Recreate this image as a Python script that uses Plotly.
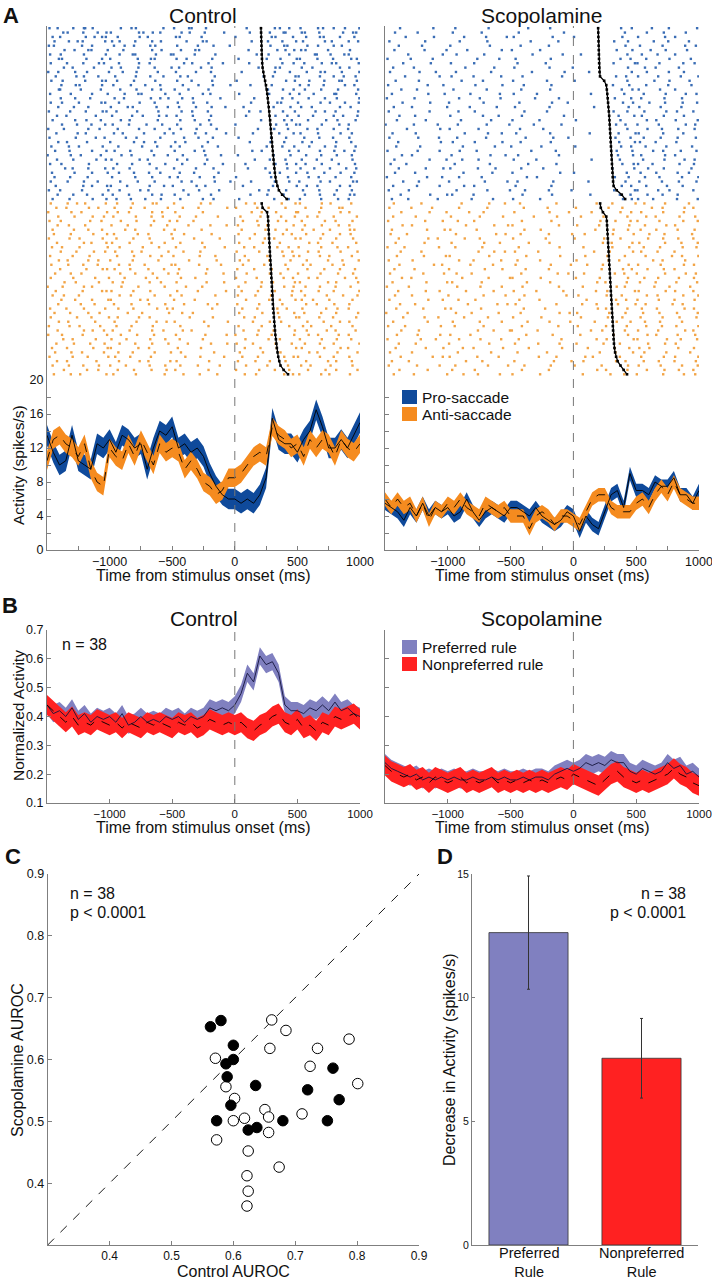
import plotly.graph_objects as go

W, H = 712, 1280
FONT = "Liberation Sans, Arial, Helvetica, sans-serif"
AXIS_GRAY = "#7f7f7f"
TEXT = "#111111"

BLUE_BAND = "#0f4a9b"
ORANGE_BAND = "#f58b1f"
BLUE_DOT = "#3a6db5"
ORANGE_DOT = "#f2a446"
PURPLE = "#8080c0"
RED = "#ff2121"

# ---------------- data ----------------
time_ms = [-1500, -1450, -1400, -1350, -1300, -1250, -1200, -1150, -1100, -1050,
           -1000, -950, -900, -850, -800, -750, -700, -650, -600, -550,
           -500, -450, -400, -350, -300, -250, -200, -150, -100, -50,
           0, 50, 100, 150, 200, 250, 300, 350, 400, 450,
           500, 550, 600, 650, 700, 750, 800, 850, 900, 950, 1000]

# Panel A: single-neuron firing rate (spikes/s)
ctrl_pro_rate = [13.5, 11.5, 10, 10.5, 13.5, 10.5, 10, 9.5, 12.5, 12,
                 13, 11.5, 13.5, 13, 12, 12.5, 9.5, 12, 14, 13.5,
                 14.5, 12, 12.5, 11.5, 12, 11, 9, 7.5, 6.5, 6,
                 6, 5.5, 6, 5.5, 6.5, 8.5, 15.5, 13, 12.5, 12.5,
                 11.5, 13, 14, 16.5, 14.5, 12, 12, 13, 12, 13.5, 15]
ctrl_anti_rate = [10.5, 13, 13.5, 12.5, 12, 11, 12.5, 9.5, 8, 7.5,
                  12, 11, 10.5, 12.5, 11, 13, 11.5, 10, 12.5, 11.5,
                  12, 11.5, 9.5, 10.5, 9.5, 8, 7.5, 6.5, 7, 8.5,
                  8.5, 9, 10, 11, 11.5, 11, 14.5, 13.5, 13, 12,
                  12.5, 11, 13, 12, 13, 12.5, 11, 13, 12, 11.5, 12.5]
scop_pro_rate = [5.5, 5, 4.5, 3.5, 5, 4, 5.5, 4, 5, 4.5,
                 5, 4, 4.5, 6, 4.5, 3.5, 4.5, 5, 4.5, 4,
                 5, 5, 4.5, 4, 5, 4, 3.5, 3, 3.5, 4.5,
                 4, 2.2, 4, 3, 2.5, 4.5, 6.5, 7, 5, 9,
                 7, 7, 6.5, 8, 7.5, 7.5, 8.5, 6.5, 6.5, 5.5, 7]
scop_anti_rate = [6, 5, 6, 5, 5.5, 4, 5.5, 3.5, 5, 4.5,
                  5.5, 5, 6, 5, 4.5, 4, 5.5, 5, 4.5, 5,
                  4, 4, 4, 2.5, 4, 4.5, 4, 3, 4, 4,
                  3.5, 3, 4.5, 6, 6.5, 6.5, 5, 4.5, 4.5, 4.5,
                  5.5, 6, 5, 6.5, 7.5, 6.5, 8, 6.5, 6, 5.5, 5.5]
ctrl_pro_sem, ctrl_anti_sem = 1.2, 1.1
scop_pro_sem, scop_anti_sem = 0.8, 0.8

# Panel B: population normalized activity
ctrl_pref = [0.44, 0.41, 0.42, 0.40, 0.43, 0.39, 0.41, 0.38, 0.40, 0.39,
             0.40, 0.38, 0.41, 0.37, 0.38, 0.40, 0.38, 0.39, 0.38, 0.40,
             0.39, 0.40, 0.38, 0.40, 0.39, 0.40, 0.43, 0.42, 0.43, 0.42,
             0.44, 0.48, 0.55, 0.52, 0.61, 0.58, 0.59, 0.55, 0.44, 0.42,
             0.42, 0.41, 0.43, 0.42, 0.44, 0.42, 0.45, 0.42, 0.43, 0.41, 0.40]
ctrl_nonpref = [0.44, 0.42, 0.40, 0.38, 0.40, 0.37, 0.38, 0.37, 0.39, 0.38,
                0.37, 0.38, 0.36, 0.38, 0.37, 0.36, 0.38, 0.37, 0.38, 0.37,
                0.36, 0.38, 0.37, 0.38, 0.36, 0.37, 0.39, 0.38, 0.37, 0.38,
                0.37, 0.38, 0.36, 0.35, 0.37, 0.38, 0.40, 0.41, 0.38, 0.37,
                0.39, 0.36, 0.37, 0.35, 0.38, 0.37, 0.40, 0.39, 0.40, 0.41, 0.39]
scop_pref = [0.24, 0.22, 0.21, 0.20, 0.19, 0.20, 0.18, 0.19, 0.18, 0.19,
             0.18, 0.19, 0.18, 0.18, 0.19, 0.18, 0.18, 0.19, 0.18, 0.19,
             0.18, 0.18, 0.19, 0.18, 0.19, 0.19, 0.18, 0.20, 0.21, 0.22,
             0.21, 0.22, 0.24, 0.23, 0.24, 0.23, 0.25, 0.24, 0.24, 0.21,
             0.20, 0.22, 0.21, 0.20, 0.21, 0.24, 0.22, 0.23, 0.20, 0.21, 0.19]
scop_nonpref = [0.23, 0.21, 0.20, 0.19, 0.20, 0.18, 0.19, 0.17, 0.19, 0.18,
                0.17, 0.18, 0.19, 0.17, 0.18, 0.17, 0.18, 0.19, 0.17, 0.18,
                0.17, 0.18, 0.17, 0.18, 0.17, 0.18, 0.17, 0.18, 0.19, 0.18,
                0.20, 0.19, 0.18, 0.17, 0.16, 0.18, 0.20, 0.21, 0.19, 0.18,
                0.17, 0.18, 0.17, 0.18, 0.19, 0.20, 0.22, 0.20, 0.19, 0.17, 0.16]
pref_sem, nonpref_sem = 0.03, 0.035

# Raster spike strings: each row = 5 chunks of 500 ms, each char = 50 ms bin;
# '.' = no spike, digit d = spike at d*5 ms into the bin
ctrl_pro_raster = [
    "47..2913.. .8.52...6. 3.71.4.... .9....427. 5..318.6.9",
    "..63.8..15 2...749.1. .58..2..3. ..4..6.81. 72.5...394",
    "9.1...2684 .3..8.1... 62..7..... 1....95..3 .4.62.8..1",
    ".2.597...3 46..1.8.2. ..3.95.... ..7..3.6.8 9...45..27",
    "31...6.2.. 7.49..53.. 8...1.6..2 .....7.94. .6.3.8.1..",
    "..8.4.61.7 ..2...8.3. .4.73..... ..2...8.15 63..9...4.",
    "5.2..9...4 .6.71..4.8 2..6..9... ...5.4..7. ..81.3.52.",
    ".94...3.8. 1...5.62.. 7.3...4... 6....1.3.9 4..2.7..65",
    "6..2.8..31 .5..7.4... .9.2.8..1. ..3....6.4 .1.9.52..8",
    "..7.1..5.. 38..6..2.9 .1..6.3... ...8..52.. 7.4...8.3.",
    "28..5.4..9 ..1.3..7.. 6..8..2... .1....4.8. .5.74..1.9",
    ".4..79..2. 9...2.5.6. .35...8... ....6.1..7 2..6.8.4.3",
    "7.5...1.84 .2.9...3.. 8..1..4... 3.......26 .9..3.71.5",
    "..3.62..8. 6..4.7..1. .7..2.5..3 ..5..9.... 48..2..6.1",
    ".91..4..6. .7..3.8.2. 4.6..8.... .....3.7.4 .2.8..5..7",
    "5..8...2.7 ..4.61..9. .2..9.1... 7....5..8. 3.6..92..4",
    "..2.5.9... 8.3...6.14 .6.3...7.. ...1...6.2 .8..4.3..9",
    "6.4..1..73 .5..8..2.. 9..4.6.... ..6...84.. 1..7.2.6.8",
    ".8..3.6... 2.97...5.3 .1.8..3.5. .4....2.9. 6.3...8.5.",
    "3..7..2.95 .1..4..8.. .5.2.7.... ..3.1..7.6 ..9.4.1..7",
    ".6.1...8.. 4..6.3.9.1 7..3..2... .8....5.4. 2.5..8.3.6",
    "9...5.3.6. .8.2...7.. .3.6.9.... ....2..9.1 .7..6.4..3",
    "..4.8..1.3 5..1.9..4. 8...5.2... 1.....6.38 4..9..7.2.",
    "2.7...6.4. .3..7..2.6 .4.9...1.. ...7..3.5. .6.2.8..1.",
    ".5..9.2... 7.1..5..8. 2..7.4..6. ..9....1.4 5..3..9.7.",
    "4...6..8.2 ..6.3...1. .9..2.5... 6....8..2. .1.5.7..3.",
    ".8.2..4... 1..9.5.3.. 5.1..7.... ..4..7.9.. 8.3...2.6.",
    "7..5.1..9. .4...2.6.8 .2..8..3.. .....1.6.5 .9..4.1..3",
    ".3.6...2.5 8..3..7... 4..6.1.... ..8.3...7. 2..6.9.5.1",
    "1..8.4..6. .9.5...1.3 .7...3.8.. 5.....2.9. .4.8..3.7.",
    ".6..2..9.4 3...8.1... 8.4..6.... ...2.6..1. 7..1.5..8.",
    "5.3...7... .2.6..4.9. .6...2..1. .7....5.38 .3.9..6..2",
    "..9.1.6..3 6..2...5.. 3..8..6... ..1.9...4. 5.7..2.8.4",
    "8...4..2.7 .5.9..3.1. .2.5...4.. .....6.2.8 .6..3.9..1",
    ".2.7..5... 4...1.8..6 9...4.7... 2....8..5. .8.4..1.6.",
    "6..3.9..1. .7..5..2.. .5.1..8..3 ..6...4.7. 3..7.2..95",
    ".4...8.2.6 2.8...4.7. 1..9.3.... .3....1..9 .5.2..8.4.",
    "3.1..6...8 .6..9.2... .8..3..5.. ...9.4..2. 9..5..3.7.",
    ".7..2.4.9. 5..1..8.3. 4.6...2... ..5..2.8.. .2.6.9..41",
    "9..6...3.5 .1.4.7..2. .3..9.6... 7.....3.6. 4..8..5.2.",
]
ctrl_anti_raster = [
    "6..38.1..4 .2.7..95.. 3...6.1... .8.2...5.7 4..9.3..6.",
    ".5.1..7.2. 8..4.6...3 .7..2...8. 2..6.4..1. .3.8..72..",
    "2..9.5...6 .3.1..8.4. 5...9..... ..7.3.6..8 1..5..9.3.",
    ".8..4..3.1 6...2.7.5. .2.8...3.. 9...1..4.6 .6.2.8...5",
    "4.2...9.7. .8..3..1.6 8..4...... .3.6..9.2. 7...4.1.8.",
    ".7.5..1... 3.9...6..2 ..6...1.7. 5..8.2...4 .2.9..6.3.",
    "9...3.6.8. ..5.1...7. 4...7..... .1..9.5.3. 8.6..2..41",
    ".1.8...4.6 7...5.2..9 .9....3... 6..2...7.1 .4..1.8.5.",
    "3..6.2..9. .1.8..4... 1..5...6.. ..4.8.3..7 5..7..2.9.",
    ".6...9.1.5 4..2..7.8. .3..8..... 7...5..2.. .9.3.6...4",
    "8.4..2...7 .6...3.9.. 6....2..4. .5.1..8.6. 2..8..4.1.",
    "..2.7..5.3 9..6.1...4 .8..5..... 3..9...6.2 .7.4..9..6",
    "5...1.8... .2.9..5.3. 2...4.9... .6...2.8.4 3..6.1..7.",
    ".9.3..6.2. 1..7...8.. ..7....1.. 8.2..5..9. .5..9..2.8",
    "7..4.8..1. .5.2.6...9 5...3..8.. .3..7...1. 9.1..6.4..",
    "..1...3.96 8..3..2.7. .1...6.... 4..1.9..5. .6..3.8..2",
    ".3.8.5.... .7..1.9..4 9....4..2. .9...6.3.. 1..7..5.9.",
    "6...2..7.9 ..4..8.6.. .4.7...... 2..5...8.3 .8.2...6.4",
    "..8.6...3. 5.1...4.2. 7....5..3. .7..3.1..6 4...9.2..7",
    "1.5..9.2.. .9..6...8. ..2.8..... 6...2..9.4 .3.6..1.5.",
    ".4...7..85 3..8..5... 8...1...6. .1.7..4..2 6..4.8...9",
    "9.7..1.... .6.4...2.7 .5....9... 5..3.8...1 .2..7..3.6",
    "..3.5..2.8 2...9.1... 3..6...... .8...5.2.7 7.5..1..8.",
    ".8...4.6.. 7..5..3.9. .9...7.2.. 4..9...6.. .4.1.9..3.",
    "5..1.9...3 .4.8...6.2 1.....4... .2.6..8.3. 8...6.4.2.",
    ".2.7..6.4. ..9..2...5 .6.3...... 7...4.9..5 .1.8..2..7",
    "6...8..1.9 .3..7.4... ..8...5... .5.2...1.8 3..5.7...4",
    ".9.4...7.. 8...3..5.1 4....1..9. ..9..6.4.. .6..2.8.3.",
    "3..6.2..5. .1.5..9... .3...8.... 6...3...7. 9.2..4..8.",
    ".7...9.3.1 5..2..8.6. .7.1...... .4.8..2..6 .5..7.1..3",
    "2.4..7...6 .8..4..1.. 6....3..7. 1..6.9...5 .8.3..6.2.",
    "..6.1..8.. 3.7...5.9. .2..9..... .7...4.2.. 4..9..3.6.",
    ".5..3.9..2 .6..1.8..4 ..5...2.8. 3.9...5..1 .2.6.8...9",
    "8..2...4.7 2...6.3... 9...6..... .6..1.7..8 7...3.9.1.",
    ".3.9.6...1 .4.7...2.8 .4....7... 8...5..3.. .9.2..4..6",
    "4...1.5..8 9..3..6... ..1.5...3. .2.7...9.4 1..6.8..3.",
    ".6.2...9.. .5..8.2..7 7....9.... 5..3.6..1. .4..9.2.7.",
    "9..5.8..3. 1.6...4.9. .3..1..6.. .8...2..5. 6.1..3..8.",
    "..7...4.2. .3.9..7..1 5....8.... 2..9..4.7. .7..5.2..6",
    ".1.8.3...5 6...2...8. .8..4..2.. .6.4...9.3 3..8.1..4.",
]
scop_pro_raster = [
    "..4....7.. .2....5... ..8...3... .......6.3 ..5..2...7",
    ".6...2.... 8....4.... .3......5. ........2. .7..4..9..",
    "...3...8.. ..6...1..4 5.....7... 1......8.. 3...6.2...",
    "7.....4... .9....3... ...2...6.. ......5.7. ..8..1..4.",
    "..2..9.... 4.....7... .6....1... ........3. 6...2..8.5",
    ".5....3..8 ...1....6. 2...7..... ......9..4 ..3.7...1.",
    "...7.....2 .4...8.... ...5....3. .2......6. 9..4..2...",
    "4...1..6.. ....7...2. 8.....4... .......5.1 .6...3..7.",
    "..9....3.. 5...2..... .1...6.... ......4..8 2..7...5.3",
    ".3..6..... ..8....4.. 6.....2..9 ........7. .4.1..8...",
    "8....5..1. .3....9... ...4....6. ..5......3 .7...2.6..",
    "...2....7. 6...1...5. .9......2. ......8.4. 3..5...1.9",
    ".7...4.... ..2..6.... 4....8.... 2.......6. ..9..3..5.",
    "5.....8..3 ....4...7. ..1...5... ......3.9. .6...1..8.",
    "..6..1.... 9.....2... .7....3... .......7.4 4..8..2...",
    ".1....9..5 ...6....3. 5...2..... ..8.....1. .2..7..9.6",
    "3...7..... .8...1..4. ...9...7.. ......6..2 8...5..3..",
    "..8....2.. 2....7.... .4....6..1 .......9.5 ..1.6..4.7",
    ".4..3....9 ...5...8.. 7.....2... ...3....8. 5..9...2..",
    "6......1.. .7..3..... ..2..8.... ......4.6. .3..8.5..1",
    "..3.8..... 4....6..1. .8......5. .......2.7 9...4..6..",
    ".9....5... ..1...9... 3...6..... 4......5.. .7.2..3..8",
    "1...6...4. .6....2..8 ...7....1. ......8.3. 2..6...9.4",
    "...5....8. 3...9..... .5...2.... ........6. .8..1.7..3",
    ".2..9..... ..7...4.6. 9.....3... ..6....2.9 4...3..5..",
    "7....3..6. .5....1... ..4...8..2 ......7..1 .2.9..6..5",
    "..1.....9. 8...3...7. .6....4... .......3.8 6..1..4...",
    ".8...6.... ..4....5.. 1...9..... 3......6.2 .5..8...9.",
    "4....2..7. .9..6..... ...3...2.. ......9..4 ..7.3..1.6",
    "..7.3..... 6.....8..2 .2.....7.. .......1.5 8...6.2...",
    ".5.....1.8 ..3.9..... 5...1..... ..9....4.. .1..5..7.3",
    "9..4...... .1....7... ..8....3.. .......8.6 3.6...9..2",
    "..2...5..3 4...8..6.. .7...2.... ......2..7 .9..4...8.",
    ".6..8..... ..5....1.. 3......9.. 1.......5. 7..2..6.4.",
    "3.....7..1 .8...4.... ..6.2..... ......6.8. .4.7...3.9",
    "..9..4.... 2....9...5 .1....8... ..4.....3. 5...1.8..6",
    ".3...1..7. ..6.2..... 8.....5... .......7.2 .6..9..4..",
    "6..8...... .4....3..9 ..3...1..7 ......5..8 2..5.3...1",
    "..5....2.9 7...1..... .9....6... ..7....4.1 .8..2.6...",
    ".1.7....4. ...8...2.. 4...7..... .......9.3 3.7...5..8",
]
scop_anti_raster = [
    ".4...8.... ..2...6..1 .5.....3.. ...7..2..9 .3..6...4.",
    "7...2..5.. .8....3... ..1..9.... 4....6.8.. ..5.2..7.1",
    "..6....1.8 ...4.7.... 6.....2..3 ..9....5.2 8...3..6..",
    ".3..9..... 5....1..8. ...7...4.. .2..8...6. .6.1..9..4",
    "5.....4..2 .6..2..... .8....5... ....3.7..1 2..7...5.8",
    "..8.3..... ..9....4.6 3......7.. 6...1...9. .4..8.2...",
    ".1....7..5 4...6..... ..2.8..... ...5..4.7. 7..2..6..3",
    "9..5...... .3.....7.2 .6....1..8 .8....3..6 ..1.5...9.",
    "..2...9.4. ..7..1.... 4....6.... 2...9..5.. .9..3.7..1",
    ".7....3... 6....8..3. ..9...2... ....7.1..4 5...6..2.8",
    "4..1....6. .2...5.... .3.....8.. .6....2.9. .2.8...4.6",
    "..5..8.... ....9..4.1 7...4..... ...3.8...5 8..4..1...",
    ".9....2..7 3.....6... ..5....9.. .9...4..2. .5...7.3.9",
    "6...4..... .8..1...5. .1..7..... 5....6.3.. ..7.2..8..",
    "..3....8.1 ...6...2.. 8.....4..6 ..2.7...8. 3..9...6.2",
    ".5..7..... 2....9..7. ..4...1... ....5..9.3 .8..4.1...",
    "8.....1..4 .4.8...... .7.....5.2 .7....6.1. 1...6..9.5",
    "..7.2..... ..3...5..9 3...8..... 4...2...7. .3.5..8..2",
    ".2....6..9 7....4.... ..6...3... ...8.1..5. 6..1..4..7",
    "3..8...... .5...2..6. .9.....7.. .5....9.2. ..9..3..6.",
    "..1...5.7. ..9....3.. 5...1...4. ...6.4...8 4...7.2..1",
    ".6..3..... 1....7...2 ..2.....9. 8....3.7.. .7.4...5.9",
    "7.....9..2 .7..4..... .4..6..... ..1...8.4. 2..6..1..3",
    "..4.8..... ...2...9.5 8......3.. .4.7...1.9 .5...8.4..",
    ".8....1..6 5....3.... ..1..5.... ...9.2..6. 9..3...7.2",
    "2..6...... .3.8....1. .6.....8.4 6....7..3. .1.7..5..8",
    "..9...3.5. ..6...4... 4...9..... .2...5.8.. 7...2.9..6",
    ".3....8... 8....1..6. ..7...2..5 ...4..9..1 .4.8...3..",
    "5..2....9. .1...7.... .8.....6.. 7....2..5. .6..1.4..9",
    "..6..4.... ....8..3.9 2...3..... ..8.6...2. 3..5...8.1",
    ".9...2..8. 4..6...... ..5...7... .1....4.7. .8.2..6..4",
    "4....7..1. .8...2..5. .3......1. ...7.3...6 2...9..1.7",
    "..2.9..... 2.....6... 7...4..8.. 5...8..4.. .9..6.3...",
    ".7....5..3 ..4.1...8. ..9.....2. ..3...6.9. 5.1...7..2",
    "8...3..... .6....9... .1...8.... ....2.7..5 .3..8...6.",
    "..5....6.2 3...7...1. ....5..3.. .9.1...4.. 8...4.2..9",
    ".1.8...... ..9..5.... 6.....9..7 .6....8.3. .2.6..1..5",
    "6....1..7. .2....4..6 ..2...4... 2...5...7. 4..9...3.8",
    "..3...8... 7...3..... .8....1... ...8.2..6. .7..5.8..1",
    ".4..6....9 ..5.8...3. 3...7..... .5...9..1. 1...3..6.4",
]

# Saccade onset per trial (ms), sorted
ctrl_pro_rt = [209, 210, 211, 212, 213, 214, 215, 217, 219, 222,
               228, 235, 242, 249, 255, 259, 263, 267, 271, 275,
               278, 282, 285, 288, 291, 294, 297, 300, 303, 306,
               309, 312, 316, 320, 325, 331, 340, 352, 378, 415]
ctrl_anti_rt = [215, 222, 258, 265, 267, 268, 270, 272, 274, 276,
                278, 280, 282, 284, 286, 288, 290, 292, 294, 296,
                298, 300, 302, 304, 306, 309, 312, 315, 318, 321,
                324, 328, 332, 336, 341, 347, 355, 365, 390, 425]
scop_pro_rt = [197, 198, 199, 200, 201, 202, 203, 204, 205, 206,
               208, 212, 245, 262, 266, 270, 273, 276, 279, 282,
               285, 287, 289, 291, 293, 295, 297, 299, 301, 303,
               305, 307, 309, 311, 313, 316, 320, 345, 385, 412]
scop_anti_rt = [213, 218, 235, 262, 266, 268, 270, 272, 274, 276,
                278, 280, 282, 284, 286, 288, 290, 292, 294, 296,
                298, 300, 302, 304, 306, 308, 310, 312, 314, 316,
                318, 320, 323, 327, 332, 340, 352, 375, 400, 427]

# Panel C: AUROC per neuron
filled_ctrl = [0.563, 0.580, 0.600, 0.588, 0.600, 0.590, 0.636, 0.596,
               0.573, 0.624, 0.638, 0.680, 0.720, 0.761, 0.771, 0.752]
filled_scop = [0.653, 0.663, 0.623, 0.593, 0.600, 0.572, 0.558, 0.526,
               0.501, 0.486, 0.490, 0.501, 0.551, 0.586, 0.535, 0.501]
open_ctrl = [0.571, 0.662, 0.685, 0.659, 0.787, 0.736, 0.724, 0.801, 0.588, 0.602, 0.600,
             0.618, 0.651, 0.657, 0.711, 0.573, 0.657, 0.624, 0.674, 0.622, 0.624, 0.622]
open_scop = [0.602, 0.664, 0.647, 0.618, 0.633, 0.618, 0.589, 0.561, 0.556, 0.537, 0.501,
             0.505, 0.519, 0.507, 0.512, 0.470, 0.482, 0.452, 0.426, 0.412, 0.387, 0.363]
unity = [0.3, 0.9]

# Panel D
rule_labels = ["Preferred<br>Rule", "Nonpreferred<br>Rule"]
rule_pos = [1, 2]
decrease = [12.63, 7.55]
decrease_sem = [2.29, 1.61]


# ---------------- helpers ----------------
def py(p):
    return 1 - p / H


def raster_points(rows, offset):
    xs, ys = [], []
    for i, row in enumerate(rows):
        for k, chunk in enumerate(row.split()):
            for j, ch in enumerate(chunk):
                if ch.isdigit():
                    t = -1500 + 500 * k + 50 * j + 5 * int(ch)
                    if t <= 1000:
                        xs.append(t)
                        ys.append(offset + i + 1)
    return xs, ys


def band(x, y, sem, color, xa, ya):
    up = [v + sem for v in y]
    lo = [v - sem for v in y]
    return go.Scatter(x=x + x[::-1], y=up + lo[::-1], fill="toself", fillcolor=color,
                      mode="lines", line=dict(width=0, color=color), xaxis=xa, yaxis=ya,
                      hoverinfo="skip")


def mean_line(x, y, dash, xa, ya, color="black"):
    return go.Scatter(x=x, y=y, mode="lines", line=dict(color=color, width=0.9, dash=dash),
                      xaxis=xa, yaxis=ya, hoverinfo="skip")


fig = go.Figure()

# ---------- Panel A rasters ----------
for rows_p, rows_a, rt_p, rt_a, xa, ya in [
    (ctrl_pro_raster, ctrl_anti_raster, ctrl_pro_rt, ctrl_anti_rt, "x", "y"),
    (scop_pro_raster, scop_anti_raster, scop_pro_rt, scop_anti_rt, "x2", "y2"),
]:
    bx, by = raster_points(rows_p, 0)
    ox, oy = raster_points(rows_a, len(rows_p))
    fig.add_trace(go.Scatter(x=bx, y=by, mode="markers", xaxis=xa, yaxis=ya,
                             marker=dict(symbol="square", size=2.4, color=BLUE_DOT, line=dict(width=0))))
    fig.add_trace(go.Scatter(x=ox, y=oy, mode="markers", xaxis=xa, yaxis=ya,
                             marker=dict(symbol="square", size=2.4, color=ORANGE_DOT, line=dict(width=0))))
    fig.add_trace(go.Scatter(x=rt_p, y=list(range(1, len(rt_p) + 1)), mode="lines+markers",
                             xaxis=xa, yaxis=ya, line=dict(color="black", width=1.3),
                             marker=dict(symbol="square", size=2.6, color="black")))
    fig.add_trace(go.Scatter(x=rt_a, y=list(range(len(rt_p) + 1, len(rt_p) + len(rt_a) + 1)),
                             mode="lines+markers", xaxis=xa, yaxis=ya,
                             line=dict(color="black", width=1.3),
                             marker=dict(symbol="square", size=2.6, color="black")))

# ---------- Panel A PSTH ----------
for pro, anti, ps, as_, xa, ya in [
    (ctrl_pro_rate, ctrl_anti_rate, ctrl_pro_sem, ctrl_anti_sem, "x3", "y3"),
    (scop_pro_rate, scop_anti_rate, scop_pro_sem, scop_anti_sem, "x4", "y4"),
]:
    fig.add_trace(band(time_ms, pro, ps, BLUE_BAND, xa, ya))
    fig.add_trace(band(time_ms, anti, as_, ORANGE_BAND, xa, ya))
    fig.add_trace(mean_line(time_ms, pro, "solid", xa, ya))
    fig.add_trace(mean_line(time_ms, anti, "dash", xa, ya))

# ---------- Panel B ----------
for pref, nonpref, xa, ya in [
    (ctrl_pref, ctrl_nonpref, "x5", "y5"),
    (scop_pref, scop_nonpref, "x6", "y6"),
]:
    fig.add_trace(band(time_ms, pref, pref_sem, PURPLE, xa, ya))
    fig.add_trace(band(time_ms, nonpref, nonpref_sem, RED, xa, ya))
    fig.add_trace(mean_line(time_ms, pref, "solid", xa, ya, color="#14143c"))
    fig.add_trace(mean_line(time_ms, nonpref, "dash", xa, ya))

# ---------- Panel C ----------
fig.add_trace(go.Scatter(x=unity, y=unity, mode="lines", xaxis="x7", yaxis="y7",
                         line=dict(color="black", width=0.9, dash="dash")))
fig.add_trace(go.Scatter(x=open_ctrl, y=open_scop, mode="markers", xaxis="x7", yaxis="y7",
                         marker=dict(size=10.5, color="white", line=dict(color="black", width=1))))
fig.add_trace(go.Scatter(x=filled_ctrl, y=filled_scop, mode="markers", xaxis="x7", yaxis="y7",
                         marker=dict(size=10.5, color="black", line=dict(color="black", width=1))))

# ---------- Panel D ----------
fig.add_trace(go.Bar(x=rule_pos, y=decrease, width=0.7, xaxis="x8", yaxis="y8",
                     marker=dict(color=[PURPLE, RED], line=dict(color="#333333", width=0.8)),
                     error_y=dict(type="data", array=decrease_sem, color="#333333",
                                  thickness=1, width=1.5)))

# ---------------- axes ----------------
base = dict(showgrid=False, zeroline=False, linecolor=AXIS_GRAY, linewidth=1,
            tickcolor=AXIS_GRAY, ticks="inside", ticklen=4, showline=True, automargin=False,
            ticklabeloverflow="allow",
            tickfont=dict(family=FONT, size=12.5, color=TEXT))
XL = [47 / W, 360 / W]
XR = [385 / W, 699 / W]
time_ticks = dict(range=[-1500, 1000], tickvals=[-1000, -500, 0, 500, 1000],
                  minor=dict(tickvals=[-1250, -750, -250, 250, 750], ticks="inside",
                             ticklen=4, tickcolor=AXIS_GRAY))
raster_y = dict(domain=[py(380), py(26)], range=[81.3, 0.5], showline=True,
                linecolor=AXIS_GRAY, linewidth=1, showgrid=False, zeroline=False,
                showticklabels=False, ticks="", automargin=False)
raster_x = dict(range=[-1500, 1000], visible=False, automargin=False)
psth_y = dict(base, domain=[py(550), py(380)], range=[0, 20],
              tickvals=[0, 4, 8, 12, 16, 20],
              minor=dict(tickvals=[2, 6, 10, 14, 18], ticks="inside", ticklen=4,
                         tickcolor=AXIS_GRAY))
b_y = dict(base, domain=[py(803), py(630)], range=[0.1, 0.7],
           tickvals=[0.1, 0.2, 0.3, 0.4, 0.5, 0.6, 0.7],
           ticktext=["0.1", "0.2", "0.3", "0.4", "0.5", "0.6", "0.7"])
b_x = dict(base, range=[-1500, 1000], tickvals=[-1000, -500, 0, 500, 1000],
           tickfont=dict(family=FONT, size=11.5, color=TEXT))

fig.update_layout(
    xaxis=dict(raster_x, domain=XL, anchor="y"),
    yaxis=dict(raster_y, anchor="x"),
    xaxis2=dict(raster_x, domain=XR, anchor="y2"),
    yaxis2=dict(raster_y, anchor="x2"),
    xaxis3=dict(base, **time_ticks, domain=XL, anchor="y3"),
    yaxis3=dict(psth_y, anchor="x3"),
    xaxis4=dict(base, **time_ticks, domain=XR, anchor="y4"),
    yaxis4=dict(psth_y, anchor="x4", showticklabels=False),
    xaxis5=dict(b_x, domain=XL, anchor="y5"),
    yaxis5=dict(b_y, anchor="x5"),
    xaxis6=dict(b_x, domain=XR, anchor="y6"),
    yaxis6=dict(b_y, anchor="x6", showticklabels=False),
    xaxis7=dict(base, domain=[47.7 / W, 419 / W], anchor="y7", range=[0.3, 0.9],
                tickvals=[0.4, 0.5, 0.6, 0.7, 0.8, 0.9],
                ticktext=["0.4", "0.5", "0.6", "0.7", "0.8", "0.9"],
                tickfont=dict(family=FONT, size=12, color=TEXT)),
    yaxis7=dict(base, domain=[py(1245), py(874)], anchor="x7", range=[0.3, 0.9],
                tickvals=[0.4, 0.5, 0.6, 0.7, 0.8, 0.9],
                ticktext=["0.4", "0.5", "0.6", "0.7", "0.8", "0.9"]),
    xaxis8=dict(base, domain=[472 / W, 698 / W], anchor="y8", range=[0.5, 2.5],
                tickvals=rule_pos, showticklabels=False, ticks=""),
    yaxis8=dict(base, domain=[py(1245), py(874)], anchor="x8", range=[0, 15],
                tickvals=[0, 5, 10, 15], ticklen=3,
                tickfont=dict(family=FONT, size=10.5, color=TEXT)),
)

# ---------------- shapes ----------------
shapes = []
for xa, y0, y1 in [("x3", 550, 26), ("x4", 550, 26), ("x5", 803, 630), ("x6", 803, 630)]:
    shapes.append(dict(type="line", xref=xa, yref="paper", x0=0, x1=0, y0=py(y0), y1=py(y1),
                       line=dict(color="#777777", width=1, dash="dash")))
# legend swatches
for (x0, y0, x1, y1, col) in [(402, 390, 417, 404, BLUE_BAND), (402, 407, 417, 421, ORANGE_BAND),
                              (402, 640, 417, 654, PURPLE), (402, 657, 417, 671, RED)]:
    shapes.append(dict(type="rect", xref="paper", yref="paper", x0=x0 / W, x1=x1 / W,
                       y0=py(y1), y1=py(y0), fillcolor=col, line=dict(width=0)))


def ann(text, x, y, size, bold=False, xanchor="center", angle=0):
    return dict(text=f"<b>{text}</b>" if bold else text, x=x / W, y=py(y), xref="paper",
                yref="paper", showarrow=False, xanchor=xanchor, yanchor="middle",
                textangle=angle, font=dict(family=FONT, size=size, color=TEXT))


annotations = [
    ann("A", 11, 15, 22, bold=True),
    ann("B", 10, 605, 22, bold=True),
    ann("C", 13, 856, 22, bold=True),
    ann("D", 445, 856, 22, bold=True),
    ann("Control", 203, 15, 21),
    ann("Scopolamine", 541, 15, 21),
    ann("Control", 204, 618, 21),
    ann("Scopolamine", 541, 618, 21),
    ann("Time from stimulus onset (ms)", 204, 575, 16),
    ann("Time from stimulus onset (ms)", 542, 575, 16),
    ann("Time from stimulus onset (ms)", 204, 827, 16),
    ann("Time from stimulus onset (ms)", 542, 827, 16),
    ann("Activity (spikes/s)", 18, 465, 15.5, angle=-90),
    ann("Normalized Activity", 18, 716, 15.5, angle=-90),
    ann("Scopolamine AUROC", 17, 1060, 16, angle=-90),
    ann("Control AUROC", 233, 1271, 16),
    ann("Decrease in Activity (spikes/s)", 449, 1060, 16, angle=-90),
    ann("Pro-saccade", 420, 397, 15.5, xanchor="left"),
    ann("Anti-saccade", 420, 414, 15.5, xanchor="left"),
    ann("Preferred rule", 420, 647, 15.5, xanchor="left"),
    ann("Nonpreferred rule", 420, 664, 15.5, xanchor="left"),
    ann("n = 38", 60, 644, 16, xanchor="left"),
    ann("n = 38", 68, 893, 16, xanchor="left"),
    ann("p &lt; 0.0001", 68, 912, 16, xanchor="left"),
    ann("n = 38", 688, 893, 16, xanchor="right"),
    ann("p &lt; 0.0001", 688, 912, 16, xanchor="right"),
]
# category labels for panel D, placed at the bar positions on the x8 axis
for pos, lab in zip(rule_pos, rule_labels):
    annotations.append(dict(text=lab, x=pos, xref="x8", y=py(1262), yref="paper",
                            showarrow=False, xanchor="center", yanchor="middle",
                            font=dict(family=FONT, size=14.5, color=TEXT)))

fig.update_layout(
    width=W, height=H, margin=dict(l=0, r=0, t=0, b=0, autoexpand=False),
    paper_bgcolor="white", plot_bgcolor="white", showlegend=False,
    shapes=shapes, annotations=annotations,
    font=dict(family=FONT, color=TEXT),
)

fig.write_html("out.html", config={"displayModeBar": False},
               post_script="document.body.style.margin='0px';document.body.style.overflow='hidden';")
